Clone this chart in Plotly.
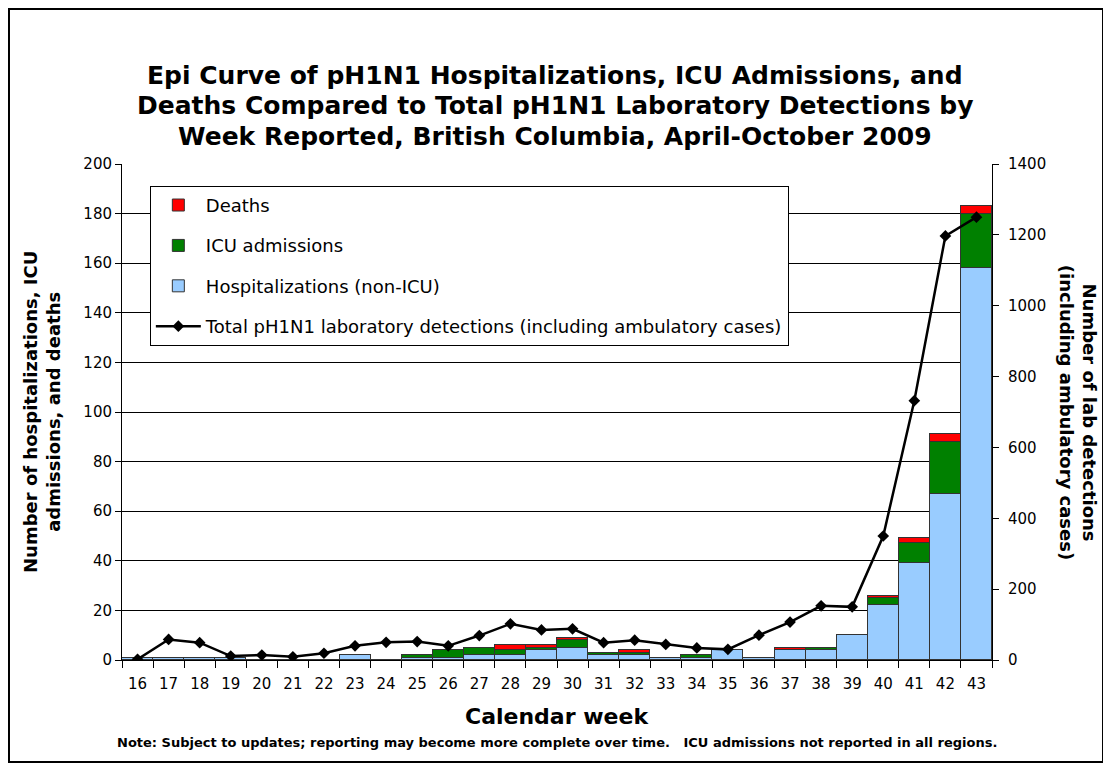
import plotly.graph_objects as go

weeks = [str(w) for w in range(16, 44)]
hosp = [1, 1, 1, 1, 0, 0, 0, 2, 0, 1, 1, 2, 2, 4, 5, 2, 2, 1, 1, 4, 1, 4, 4, 10, 22, 39, 67, 158]
icu = [0, 0, 0, 0, 0, 0, 0, 0, 0, 1, 3, 3, 2, 1, 3, 1, 1, 0, 1, 0, 0, 0, 1, 0, 3, 8, 21, 22]
deaths = [0, 0, 0, 0, 0, 0, 0, 0, 0, 0, 0, 0, 2, 1, 1, 0, 1, 0, 0, 0, 0, 1, 0, 0, 1, 2, 3, 3]
lab = [2, 58, 49, 11, 14, 9, 19, 40, 50, 52, 40, 69, 102, 85, 88, 49, 56, 44, 34, 30, 70, 107, 153, 150, 350, 732, 1197, 1250]

title_lines = [
    "Epi Curve of pH1N1 Hospitalizations, ICU Admissions, and",
    "Deaths Compared to Total pH1N1 Laboratory Detections by",
    "Week Reported, British Columbia, April-October 2009",
]

FONT = "DejaVu Sans, Liberation Sans, Arial, sans-serif"
outline = dict(color="#333333", width=1)

fig = go.Figure()
fig.add_trace(go.Bar(x=weeks, y=hosp, name="Hospitalizations (non-ICU)", marker=dict(color="#99CCFF", line=outline),
                     legendgroup="c", legendrank=3))
fig.add_trace(go.Bar(x=weeks, y=icu, name="ICU admissions", marker=dict(color="#008000", line=outline),
                     legendgroup="b", legendrank=2))
fig.add_trace(go.Bar(x=weeks, y=deaths, name="Deaths", marker=dict(color="#FF0000", line=outline),
                     legendgroup="a", legendrank=1))
fig.add_trace(go.Scatter(x=weeks, y=lab, yaxis="y2", mode="lines+markers",
                         name="Total pH1N1 laboratory detections (including ambulatory cases)",
                         line=dict(color="black", width=2.5),
                         marker=dict(symbol="diamond", size=9, color="black"),
                         legendgroup="d", legendrank=4))

fig.update_layout(
    width=1103, height=761,
    barmode="stack", bargap=0,
    plot_bgcolor="white", paper_bgcolor="white",
    font=dict(family=FONT, color="black", size=15),
    margin=dict(l=114, r=119, t=156, b=109),
    xaxis=dict(type="category", range=[-0.5, 27.5], tickson="boundaries", ticks="outside", ticklen=7,
               tickcolor="black", showline=True, linecolor="black", linewidth=1, showgrid=False,
               tickfont=dict(size=15), ticklabelstandoff=10),
    yaxis=dict(range=[0, 200], dtick=20, ticks="outside", ticklen=6, tickcolor="black",
               showline=True, linecolor="black", linewidth=1, showgrid=True, gridcolor="black", gridwidth=1,
               tickfont=dict(size=15), zeroline=False),
    yaxis2=dict(range=[0, 1400], dtick=200, overlaying="y", side="right", ticks="outside", ticklen=6,
                tickcolor="black", showline=True, linecolor="black", linewidth=1, showgrid=False,
                tickfont=dict(size=15), zeroline=False, ticklabelstandoff=6),
    legend=dict(x=0.032, y=0.956, xanchor="left", yanchor="top", bgcolor="white",
                bordercolor="black", borderwidth=1, font=dict(size=18),
                traceorder="grouped", tracegroupgap=14, itemwidth=45),
    showlegend=True,
)

for i, line in enumerate(title_lines):
    fig.add_annotation(text="<b>" + line + "</b>", xref="paper", yref="paper",
                       x=0.498, y=[1.179, 1.117, 1.056][i], showarrow=False,
                       font=dict(size=25), xanchor="center", yanchor="middle")

fig.add_annotation(text="<b>Calendar week</b>", xref="paper", yref="paper", x=0.5, y=-0.113,
                   showarrow=False, font=dict(size=22), xanchor="center", yanchor="middle")
fig.add_annotation(text="<b>Number of hospitalizations, ICU<br>admissions, and deaths</b>",
                   xref="paper", yref="paper", x=-0.092, y=0.5, textangle=-90, showarrow=False,
                   font=dict(size=18), xanchor="center", yanchor="middle")
fig.add_annotation(text="<b>Number of lab detections<br>(including ambulatory cases)</b>",
                   xref="paper", yref="paper", x=1.099, y=0.5, textangle=90, showarrow=False,
                   font=dict(size=18), xanchor="center", yanchor="middle")
fig.add_annotation(text="<b>Note: Subject to updates; reporting may become more complete over time.   ICU admissions not reported in all regions.</b>",
                   xref="paper", yref="paper", x=0.5, y=-0.167, showarrow=False,
                   font=dict(size=13), xanchor="center", yanchor="middle")

fig.add_shape(type="rect", xref="paper", yref="paper", x0=-0.1299, x1=1.1276, y0=-0.2056, y1=1.3125,
              line=dict(color="black", width=2), layer="above")

fig.write_html("out.html")
